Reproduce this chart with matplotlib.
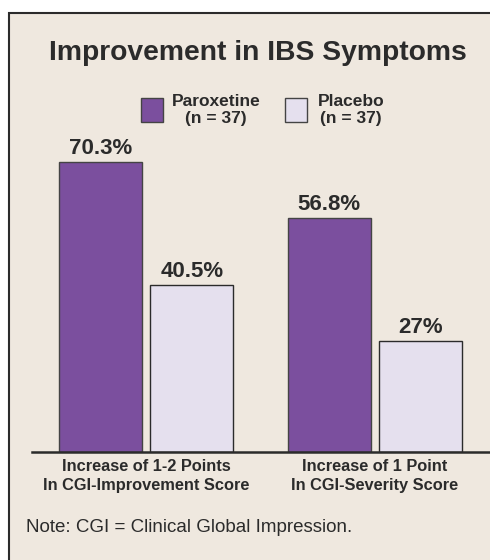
import matplotlib.pyplot as plt
import matplotlib.patches as mpatches
import numpy as np

# data
groups = ['Increase of 1-2 Points\nIn CGI-Improvement Score',
          'Increase of 1 Point\nIn CGI-Severity Score']
paroxetine = [70.3, 56.8]
placebo = [40.5, 27]
par_labels = ['70.3%', '56.8%']
pla_labels = ['40.5%', '27%']
series = ['Paroxetine\n(n = 37)', 'Placebo\n(n = 37)']

bg = '#efe8df'
purple = '#7b4f9e'
lav = '#e5e0ee'
dark = '#2b2b2b'
fam = ['Liberation Sans', 'DejaVu Sans']

fig = plt.figure(figsize=(4.9, 5.6), dpi=100)
W, H = 490, 560

# framed background panel, clipped by the right and bottom edges
fig.patches.append(mpatches.Rectangle((9 / W, -0.05), 1.0, (H - 13) / H + 0.05,
                                      transform=fig.transFigure, facecolor=bg,
                                      edgecolor=dark, linewidth=1.5, zorder=-5))

# axes: left 32px, right 490px, baseline at y=452 from top
ax = fig.add_axes([32 / W, (H - 452) / H, (490 - 32) / W, 352 / H])
ax.set_zorder(2)
ax.patch.set_visible(False)
x = np.arange(len(groups))
w = 0.362
b1 = ax.bar(x - 0.2, paroxetine, w, color=purple, edgecolor='#444444', linewidth=1)
b2 = ax.bar(x + 0.2, placebo, w, color=lav, edgecolor=dark, linewidth=1)
ax.set_xlim(-0.498, 1.502)
ax.set_ylim(0, 85.3)
for bars, labs in [(b1, par_labels), (b2, pla_labels)]:
    for r, t in zip(bars, labs):
        ax.annotate(t, (r.get_x() + r.get_width() / 2, r.get_height()),
                    xytext=(0, 2), textcoords='offset points', ha='center', va='bottom',
                    fontsize=16, fontweight='bold', color=dark, family=fam)
for s in ['top', 'right', 'left']:
    ax.spines[s].set_visible(False)
ax.spines['bottom'].set_linewidth(1.8)
ax.spines['bottom'].set_color(dark)
ax.set_yticks([])
ax.set_xticks(x)
ax.set_xticklabels(groups, fontsize=11.8, fontweight='bold', color=dark, family=fam,
                   linespacing=1.3)
ax.tick_params(axis='x', length=0, pad=5)

# title
fig.text(258 / W, 1 - 53 / H, 'Improvement in IBS Symptoms', ha='center', va='center',
         fontsize=20.3, fontweight='bold', color=dark, family=fam)

# legend
for (sx, tx), lab, col in zip([(141, 216), (285, 351)], series, [purple, lav]):
    fig.patches.append(mpatches.Rectangle((sx / W, 1 - 122 / H), 22 / W, 24 / H,
                                          transform=fig.transFigure, facecolor=col,
                                          edgecolor='#444444', linewidth=1))
    fig.text(tx / W, 1 - 110 / H, lab, ha='center', va='center', fontsize=12.5,
             fontweight='bold', color=dark, family=fam, linespacing=1.25)

# note
fig.text(26 / W, 1 - 528 / H, 'Note: CGI = Clinical Global Impression.', ha='left',
         va='center', fontsize=13.5, color=dark, family=fam)

fig.savefig('out.png', dpi=100, facecolor='white')
